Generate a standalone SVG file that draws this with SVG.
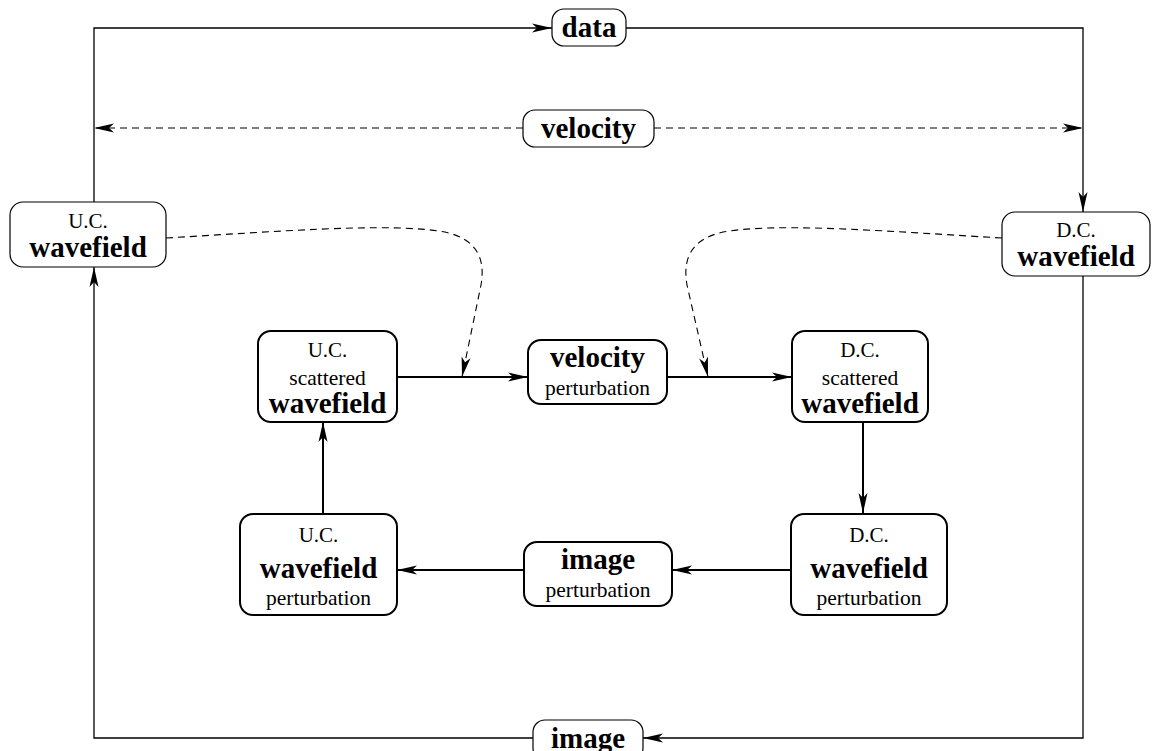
<svg xmlns="http://www.w3.org/2000/svg" width="1152" height="751" viewBox="0 0 1152 751">
<style>
.outer{fill:#fff;stroke:#000;stroke-width:1.2}
.inner{fill:#fff;stroke:#000;stroke-width:2}
.ln{fill:none;stroke:#000;stroke-width:1.3}
.lni{fill:none;stroke:#000;stroke-width:2}
.dash{fill:none;stroke:#000;stroke-width:1.1;stroke-dasharray:7 5}
.t{text-anchor:middle;fill:#000}
.b{font-weight:bold;font-size:29px}
.r{font-size:21px}
.s{font-size:21.5px}
</style>
<defs>
<marker id="ah" markerUnits="userSpaceOnUse" viewBox="-22 -6 24 12" markerWidth="24" markerHeight="12" refX="0" refY="0" orient="auto">
<path d="M0,0 L-20,-4.5 L-15,0 L-20,4.5 Z" fill="#000" stroke="none"/>
</marker>
</defs>
<g id="connectors">
<path class="ln" d="M94,202 V28 H552" marker-end="url(#ah)"/>
<path class="ln" d="M626,28 H1083 V212" marker-end="url(#ah)"/>
<path class="ln" d="M1083,276 V738 H643" marker-end="url(#ah)"/>
<path class="ln" d="M533,738 H94 V267" marker-end="url(#ah)"/>
<path class="dash" d="M523,128 H94" marker-end="url(#ah)"/>
<path class="dash" d="M654,128 H1083" marker-end="url(#ah)"/>
<path class="dash" d="M166,238 C270,232 390,222 445,232 C480,240 485,262 481,285 L462,377" marker-end="url(#ah)"/>
<path class="dash" d="M1002,238 C898,232 778,222 723,232 C688,240 683,262 687,285 L708,377" marker-end="url(#ah)"/>
<path class="lni" d="M397,377 H528" marker-end="url(#ah)"/>
<path class="lni" d="M667,377 H792" marker-end="url(#ah)"/>
<path class="lni" d="M863,422 V513" marker-end="url(#ah)"/>
<path class="lni" d="M791,570 H672" marker-end="url(#ah)"/>
<path class="lni" d="M524,570 H397" marker-end="url(#ah)"/>
<path class="lni" d="M323,514 V422" marker-end="url(#ah)"/>
</g>
<g font-family="Liberation Serif, Times New Roman, DejaVu Serif, serif">
<g id="data">
<rect class="outer" x="552" y="9" width="74" height="37" rx="12"/>
<text class="t b" x="589" y="37">data</text>
</g>
<g id="velocity">
<rect class="outer" x="523" y="110" width="131" height="37" rx="12"/>
<text class="t b" x="588.5" y="138">velocity</text>
</g>
<g id="uc-wavefield">
<rect class="outer" x="10" y="202" width="156" height="65" rx="13"/>
<text class="t r" x="88" y="228">U.C.</text>
<text class="t b" x="88" y="257">wavefield</text>
</g>
<g id="dc-wavefield">
<rect class="outer" x="1002" y="212" width="148" height="64" rx="13"/>
<text class="t r" x="1076" y="237">D.C.</text>
<text class="t b" x="1076" y="266">wavefield</text>
</g>
<g id="uc-scattered">
<rect class="inner" x="258" y="331" width="139" height="91" rx="13"/>
<text class="t r" x="327.5" y="357">U.C.</text>
<text class="t s" x="327.5" y="385">scattered</text>
<text class="t b" x="327.5" y="413">wavefield</text>
</g>
<g id="velocity-perturbation">
<rect class="inner" x="528" y="340" width="139" height="64" rx="13"/>
<text class="t b" x="597.5" y="367">velocity</text>
<text class="t s" x="597.5" y="395">perturbation</text>
</g>
<g id="dc-scattered">
<rect class="inner" x="792" y="331" width="136" height="91" rx="13"/>
<text class="t r" x="860" y="357">D.C.</text>
<text class="t s" x="860" y="385">scattered</text>
<text class="t b" x="860" y="413">wavefield</text>
</g>
<g id="dc-wavefield-perturbation">
<rect class="inner" x="791" y="514" width="156" height="101" rx="13"/>
<text class="t r" x="869" y="542">D.C.</text>
<text class="t b" x="869" y="578">wavefield</text>
<text class="t s" x="869" y="605">perturbation</text>
</g>
<g id="image-perturbation">
<rect class="inner" x="524" y="542" width="148" height="64" rx="13"/>
<text class="t b" x="598" y="569">image</text>
<text class="t s" x="598" y="597">perturbation</text>
</g>
<g id="uc-wavefield-perturbation">
<rect class="inner" x="240" y="514" width="157" height="101" rx="13"/>
<text class="t r" x="318.5" y="542">U.C.</text>
<text class="t b" x="318.5" y="578">wavefield</text>
<text class="t s" x="318.5" y="605">perturbation</text>
</g>
<g id="image">
<rect class="outer" x="533" y="720" width="110" height="40" rx="12"/>
<text class="t b" x="588" y="748">image</text>
</g>
</g>
</svg>
